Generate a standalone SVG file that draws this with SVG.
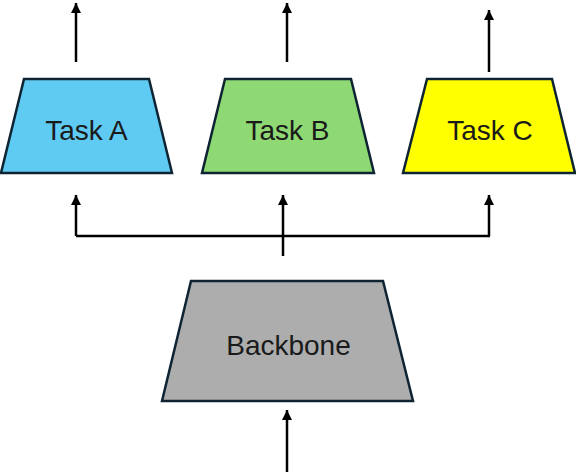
<svg xmlns="http://www.w3.org/2000/svg" width="576" height="472" viewBox="0 0 576 472">
  <style>
    .node { stroke: #0E2433; stroke-width: 2.5; stroke-linejoin: miter; }
    .label { font-family: "Liberation Sans", Arial, sans-serif; font-size: 28px; fill: #1a1a1a; text-anchor: middle; }
    .conn { stroke: #000; stroke-width: 2.5; fill: none; }
  </style>
  <defs>
    <marker id="arrow" markerUnits="userSpaceOnUse" markerWidth="10" markerHeight="11" viewBox="0 0 10 11" refX="10" refY="5" orient="auto">
      <path d="M0,0 L10,5 L0,10 Z" fill="#000"/>
    </marker>
  </defs>
  <g id="connectors">
    <line class="conn" x1="76" y1="62" x2="76" y2="3" marker-end="url(#arrow)"/>
    <line class="conn" x1="287" y1="62" x2="287" y2="3" marker-end="url(#arrow)"/>
    <line class="conn" x1="489" y1="72" x2="489" y2="10" marker-end="url(#arrow)"/>
    <polyline class="conn" points="76,236 490,236"/>
    <line class="conn" x1="76" y1="236" x2="76" y2="195" marker-end="url(#arrow)"/>
    <line class="conn" x1="283" y1="256" x2="283" y2="195" marker-end="url(#arrow)"/>
    <line class="conn" x1="489" y1="236" x2="489" y2="195" marker-end="url(#arrow)"/>
    <line class="conn" x1="287" y1="472" x2="287" y2="410" marker-end="url(#arrow)"/>
  </g>
  <g id="taskA">
    <polygon class="node" fill="#5FCBF3" points="24,79 149,79 172,173 1,173"/>
    <text class="label" x="86.5" y="140">Task A</text>
  </g>
  <g id="taskB">
    <polygon class="node" fill="#8ED973" points="225,79 351,79 374,173 202,173"/>
    <text class="label" x="287.5" y="140">Task B</text>
  </g>
  <g id="taskC">
    <polygon class="node" fill="#FFFF00" points="427,79 552,79 575,173 403,173"/>
    <text class="label" x="490" y="140">Task C</text>
  </g>
  <g id="backbone">
    <polygon class="node" fill="#ADADAD" points="191,281 383,281 413,401 162,401"/>
    <text class="label" x="288.5" y="355">Backbone</text>
  </g>
</svg>
